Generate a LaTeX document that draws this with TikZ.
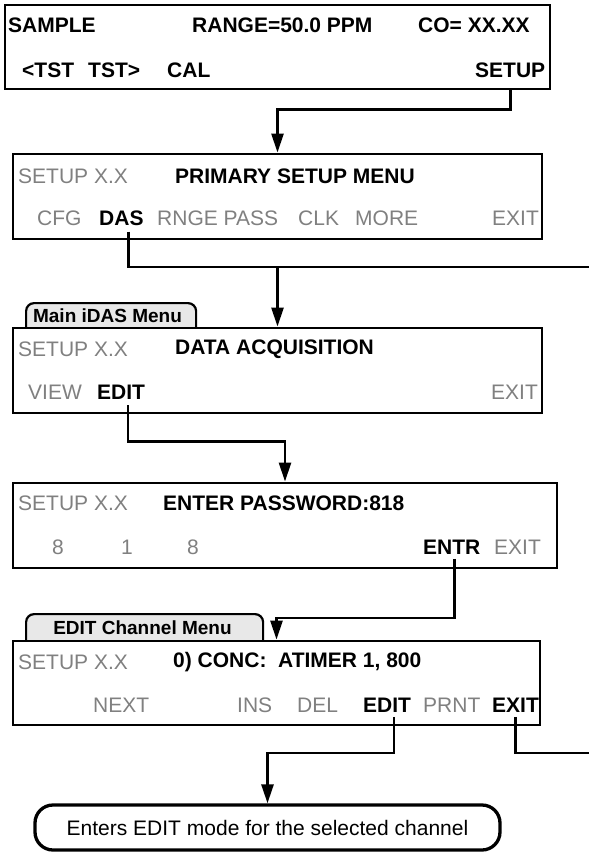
\documentclass[tikz,border=0pt]{standalone}
\usepackage{fontspec}
\setmainfont{Liberation Sans}
\usepackage{tikz}
\usetikzlibrary{positioning,arrows.meta}
\definecolor{keygray}{RGB}{128,128,128}
\definecolor{tabgray}{RGB}{232,232,232}
\tikzset{
  screen/.style={draw=black, line width=2.9pt, fill=white, inner sep=0pt},
  tab/.style={draw=black, line width=2.2pt, fill=tabgray, rounded corners=8pt, inner sep=0pt},
  tabtext/.style={font=\fontsize{19}{22}\selectfont\bfseries, inner sep=0pt},
  hdr/.style={font=\fontsize{21}{25}\selectfont\bfseries, anchor=west, inner sep=0pt},
  key/.style={font=\fontsize{21}{25}\selectfont, text=keygray, anchor=west, inner sep=0pt},
  sel/.style={hdr},
  flow/.style={draw=black, line width=2.7pt, -{Triangle[length=19pt,width=12pt]}},
  wire/.style={draw=black, line width=2.7pt},
  note/.style={draw=black, line width=3.3pt, rounded corners=18pt, minimum width=465pt,
    minimum height=45pt, font=\fontsize{21}{25}\selectfont}
}
\begin{document}
\begin{tikzpicture}[x=1pt,y=-1pt]
    \useasboundingbox (0,0) rectangle (589,852);

    \node[tab, anchor=north west, minimum width=170pt, minimum height=36pt] (tab3) at (25,302) {};
    \node[tab, anchor=north west, minimum width=237pt, minimum height=36pt] (tab5) at (25,613) {};

    \node[screen, minimum width=545pt, minimum height=84pt] (scr1) at (277.5,47) {};
    \node[screen, minimum width=529pt, minimum height=85pt] (scr2) at (277.5,196.5) {};
    \node[screen, minimum width=529pt, minimum height=85pt] (scr3) at (277.5,370.5) {};
    \node[screen, minimum width=544pt, minimum height=85pt] (scr4) at (285,525.5) {};
    \node[screen, minimum width=527pt, minimum height=84pt] (scr5) at (276.5,683) {};
    \node[note] (info) at (267.5,827.5) {Enters EDIT mode for the selected channel};

    \node[tabtext] (tab3txt) at (107.5,316) {Main iDAS Menu};
    \node[tabtext] (tab5txt) at (142.5,628) {EDIT Channel Menu};

    \node[hdr] (sample) at (8,25) {SAMPLE};
    \node[hdr] (range) at (192,25) {RANGE=50.0 PPM};
    \node[hdr] (conc) at (418,25) {CO= XX.XX};
    \node[sel] (tstl) at (22,70) {<TST};
    \node[sel] (tstr) at (88,70) {TST>};
    \node[sel] (cal) at (167,70) {CAL};
    \node[sel] (setup) at (475,70) {SETUP};

    \node[key] (ver2) at (18,176) {SETUP X.X};
    \node[hdr] (title2) at (175,176) {PRIMARY SETUP MENU};
    \node[key] (cfg) at (37,218) {CFG};
    \node[sel] (das) at (99,218) {DAS};
    \node[key] (rnge) at (157,218) {RNGE PASS};
    \node[key] (clk) at (298,218) {CLK};
    \node[key] (more) at (355,218) {MORE};
    \node[key] (exit2) at (492,218) {EXIT};

    \node[key] (ver3) at (18,349) {SETUP X.X};
    \node[hdr] (title3) at (175,349) {DATA ACQUISITION};
    \node[key] (view) at (28,392) {VIEW};
    \node[sel] (edit3) at (97,392) {EDIT};
    \node[key] (exit3) at (491,392) {EXIT};

    \node[key] (ver4) at (18,503) {SETUP X.X};
    \node[hdr] (title4) at (163,503) {ENTER PASSWORD:818};
    \node[key, anchor=center] (pw1) at (58,547) {8};
    \node[key, anchor=center] (pw2) at (127,547) {1};
    \node[key, anchor=center] (pw3) at (193,547) {8};
    \node[sel] (entr) at (423,547) {ENTR};
    \node[key] (exit4) at (494,547) {EXIT};

    \node[key] (ver5) at (18,662) {SETUP X.X};
    \node[hdr] (title5) at (173,662) {0) CONC:~ ATIMER 1, 800};
    \node[key] (next) at (93,705) {NEXT};
    \node[key] (ins) at (237,705) {INS};
    \node[key] (del) at (297,705) {DEL};
    \node[sel] (edit5) at (363,705) {EDIT};
    \node[key] (prnt) at (423,705) {PRNT};
    \node[sel] (exit5) at (492,705) {EXIT};

    \coordinate (dasout) at (589,267);
    \coordinate (exitout) at (589,753);

    \draw[flow] (setup.south |- scr1.south) -- ++(0,19) -| (scr2.north);
    \draw[wire] ([xshift=7pt,yshift=-6pt]das.south) |- (dasout);
    \draw[flow] (scr3.north |- dasout) -- (scr3.north);
    \draw[flow] ([xshift=7pt,yshift=-6pt]edit3.south) -- ++(0,36) -| (scr4.north);
    \draw[flow] ([xshift=2.5pt,yshift=-4.5pt]entr.south) -- ++(0,59) -| (scr5.north);
    \draw[flow] ([xshift=7pt,yshift=-4.5pt]edit5.south) -- ++(0,36) -| (info.north);
    \draw[wire] ([yshift=-4.5pt]exit5.south) |- (exitout);
\end{tikzpicture}
\end{document}
